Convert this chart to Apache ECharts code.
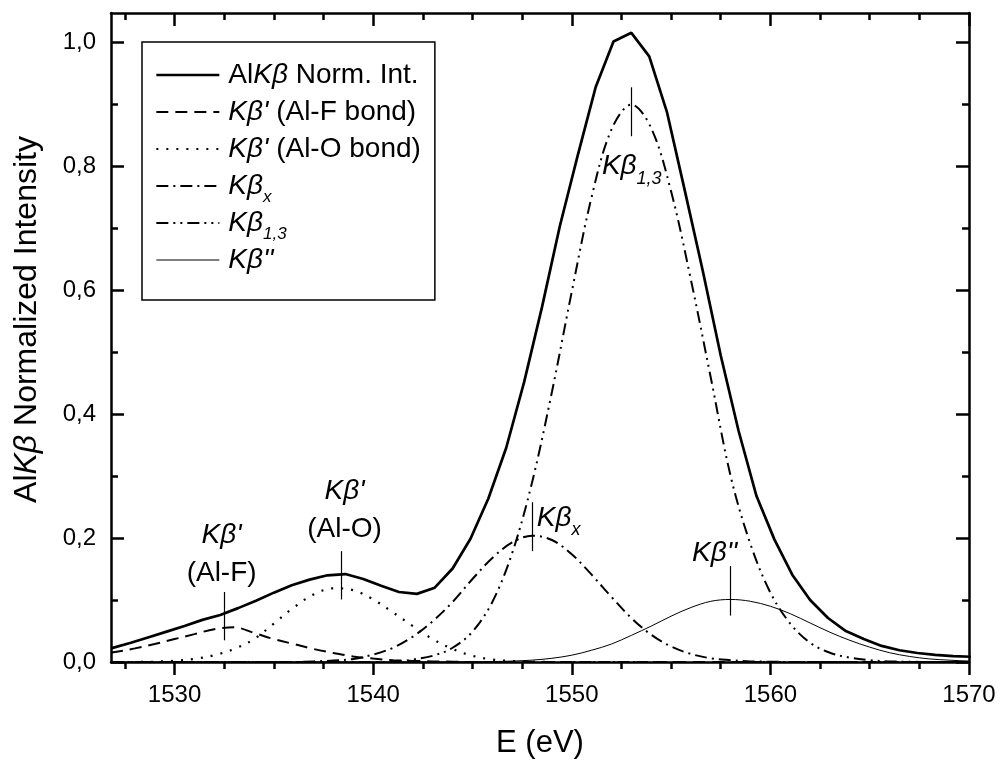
<!DOCTYPE html>
<html>
<head>
<meta charset="utf-8">
<title>Al Kβ spectrum</title>
<script src="https://cdn.jsdelivr.net/npm/echarts@6/dist/echarts.min.js"></script>
<style>
  html, body { margin: 0; padding: 0; background: #fff; }
  #chart { width: 1000px; height: 760px; }
</style>
</head>
<body>
<div id="chart"></div>
<script>
// axis ticks
const xMajor = [1530, 1540, 1550, 1560, 1570];
const xMinor = [1527.5, 1532.5, 1535, 1537.5, 1542.5, 1545, 1547.5, 1552.5, 1555, 1557.5, 1562.5, 1565, 1567.5];
const yMajor = [0, 0.2, 0.4, 0.6, 0.8, 1.0];
const yMinor = [0.1, 0.3, 0.5, 0.7, 0.9];

// measured spectrum (eV, normalized intensity)
const totalE = [1526.8, 1527.8, 1528.7, 1529.6, 1530.5, 1531.4, 1532.3, 1533.2, 1534.1, 1535.0,
  1535.9, 1536.8, 1537.7, 1538.6, 1539.5, 1540.4, 1541.3, 1542.2, 1543.1, 1544.0,
  1544.9, 1545.8, 1546.7, 1547.6, 1548.5, 1549.4, 1550.3, 1551.2, 1552.1, 1553.0,
  1553.9, 1554.8, 1555.7, 1556.6, 1557.5, 1558.4, 1559.3, 1560.2, 1561.1, 1562.0,
  1562.9, 1563.8, 1564.7, 1565.6, 1566.5, 1567.4, 1568.3, 1569.2, 1570.1, 1570.8];
const totalI = [0.022, 0.031, 0.040, 0.049, 0.058, 0.068, 0.076, 0.087, 0.099, 0.112,
  0.124, 0.133, 0.140, 0.142, 0.134, 0.123, 0.113, 0.110, 0.120, 0.151,
  0.199, 0.264, 0.346, 0.452, 0.573, 0.704, 0.818, 0.928, 1.002, 1.016,
  0.978, 0.887, 0.760, 0.631, 0.495, 0.373, 0.268, 0.198, 0.141, 0.100,
  0.071, 0.050, 0.037, 0.026, 0.019, 0.0145, 0.0115, 0.0095, 0.0085, 0.008];

// fitted components on a common energy grid
const compE = [1526.8, 1527, 1528, 1529, 1530, 1531, 1532, 1533, 1534, 1535,
  1536, 1537, 1538, 1539, 1540, 1541, 1542, 1543, 1544, 1545,
  1546, 1547, 1548, 1549, 1550, 1551, 1552, 1553, 1554, 1555,
  1556, 1557, 1558, 1559, 1560, 1561, 1562, 1563, 1564, 1565,
  1566, 1567, 1568, 1569, 1570, 1570.8];
const alF = [0.015, 0.016, 0.022, 0.029, 0.037, 0.045, 0.053, 0.056, 0.047, 0.037,
  0.029, 0.021, 0.0145, 0.009, 0.0055, 0.003, 0.0018, 0.001, 0.0005, 0,
  0, 0, 0, 0, 0, 0, 0, 0, 0, 0,
  0, 0, 0, 0, 0, 0, 0, 0, 0, 0,
  0, 0, 0, 0, 0, 0];
const alO = [0, 0, 0, 0.0005, 0.002, 0.005, 0.011, 0.021, 0.037, 0.062,
  0.088, 0.109, 0.119, 0.116, 0.101, 0.080, 0.058, 0.037, 0.021, 0.010,
  0.004, 0.0015, 0.0005, 0, 0, 0, 0, 0, 0, 0,
  0, 0, 0, 0, 0, 0, 0, 0, 0, 0,
  0, 0, 0, 0, 0, 0];
const kbX = [0, 0, 0, 0, 0, 0, 0, 0, 0, 0,
  0, 0.001, 0.0023, 0.005, 0.012, 0.023, 0.041, 0.066, 0.097, 0.134,
  0.168, 0.193, 0.204, 0.197, 0.174, 0.141, 0.105, 0.071, 0.044, 0.025,
  0.013, 0.006, 0.003, 0.001, 0.0005, 0, 0, 0, 0, 0,
  0, 0, 0, 0, 0, 0];
const kb13 = [0, 0, 0, 0, 0, 0, 0, 0, 0, 0,
  0, 0, 0, 0, 0, 0, 0.004, 0.010, 0.023, 0.049,
  0.097, 0.176, 0.290, 0.436, 0.598, 0.751, 0.860, 0.900, 0.862, 0.760,
  0.617, 0.459, 0.300, 0.190, 0.112, 0.062, 0.031, 0.015, 0.007, 0.003,
  0.001, 0.0004, 0, 0, 0, 0];
const kb2 = [0, 0, 0, 0, 0, 0, 0, 0, 0, 0,
  0, 0, 0, 0, 0, 0, 0, 0, 0.0002, 0.0004,
  0.0007, 0.0015, 0.003, 0.006, 0.011, 0.019, 0.029, 0.043, 0.058, 0.074,
  0.088, 0.098, 0.101, 0.098, 0.090, 0.078, 0.063, 0.048, 0.035, 0.024,
  0.015, 0.009, 0.005, 0.003, 0.0015, 0.001];

// peak markers (energy, bottom and top of the marker)
const peakE = [1532.5, 1538.4, 1548.0, 1553.0, 1558.0];
const peakLow = [0.035, 0.101, 0.179, 0.849, 0.075];
const peakHigh = [0.113, 0.179, 0.258, 0.928, 0.155];

// every legend row carries a subscript slot (empty ones are zero width) so all rows get the same height
const seriesKeys = ['total', 'alF', 'alO', 'kbX', 'kb13', 'kb2'];
const legendLabels = [
  '{n|Al}{i|Kβ}{n| Norm. Int.}{s|\u200b}',
  "{i|Kβ'}{n| (Al-F bond)}{s|\u200b}",
  "{i|Kβ'}{n| (Al-O bond)}{s|\u200b}",
  '{i|Kβ}{s|x}',
  '{i|Kβ}{s|1,3}',
  "{i|Kβ''}{s|\u200b}"
];
const lineWidths = [2.7, 2, 2.2, 2, 2, 1];

const FONT = '"Liberation Sans", Arial, Helvetica, sans-serif';
const X_MIN = 1526.8, X_MAX = 1570;
const Y_MIN = 0, Y_MAX = 1.048;

function pairs(xs, ys) {
  return xs.map(function (x, i) { return [x, ys[i]]; });
}

// peak labels, placed in data units
const peakLabels = [
  { coord: [1532.37, 0.174], text: "{a|Kβ'}\n{b|(Al-F)}", pos: 'inside' },
  { coord: [1538.56, 0.245], text: "{a|Kβ'}\n{b|(Al-O)}", pos: 'inside' },
  { coord: [1548.24, 0.232], text: '{c|Kβ}{d|x}', pos: 'right' },
  { coord: [1553.02, 0.800], text: '{c|Kβ}{d|1,3}', pos: 'inside' },
  { coord: [1557.2, 0.176], text: "{c|Kβ''}", pos: 'inside' }
];

const annRich = {
  a: { fontFamily: FONT, fontSize: 28, fontStyle: 'italic', lineHeight: 38, color: '#000' },
  b: { fontFamily: FONT, fontSize: 28, lineHeight: 38, color: '#000' },
  c: { fontFamily: FONT, fontSize: 28, fontStyle: 'italic', lineHeight: 28, color: '#000' },
  d: { fontFamily: FONT, fontSize: 18, fontStyle: 'italic', lineHeight: 2, verticalAlign: 'top', padding: [17, 0, 0, 0], color: '#000' }
};

const legendRich = {
  n: { fontFamily: FONT, fontSize: 28, lineHeight: 27, color: '#000' },
  i: { fontFamily: FONT, fontSize: 28, fontStyle: 'italic', lineHeight: 27, color: '#000' },
  s: { fontFamily: FONT, fontSize: 17, fontStyle: 'italic', lineHeight: 2, height: 2, verticalAlign: 'top', padding: [24, 0, 0, 0], color: '#000' }
};

const black = '#000';
const frame = { show: true, onZero: false, lineStyle: { color: black, width: 2.5 } };

function xDeco(position, ticks, len, inside, showLine) {
  return {
    type: 'value', position: position, min: X_MIN, max: X_MAX,
    axisLine: showLine ? frame : { show: false, onZero: false },
    axisTick: { show: true, customValues: ticks, length: len, inside: inside, lineStyle: { color: black, width: 2.5 } },
    axisLabel: { show: false },
    splitLine: { show: false }
  };
}
function yDeco(position, ticks, len, showLine) {
  return {
    type: 'value', position: position, min: Y_MIN, max: Y_MAX,
    axisLine: showLine ? frame : { show: false, onZero: false },
    axisTick: { show: true, customValues: ticks, length: len, inside: true, lineStyle: { color: black, width: 2.5 } },
    axisLabel: { show: false },
    splitLine: { show: false }
  };
}

const chart = echarts.init(document.getElementById('chart'));

const option = {
  animation: false,
  backgroundColor: '#fff',
  grid: { left: 111, right: 31, top: 13, bottom: 98, outerBoundsMode: 'none' },
  legend: {
    orient: 'vertical',
    left: 142,
    top: 42,
    padding: [19, 14, 20, 13],
    itemWidth: 63,
    itemHeight: 14,
    itemGap: 3,
    borderColor: black,
    borderWidth: 1.5,
    selectedMode: false,
    itemStyle: { opacity: 0 },
    data: seriesKeys.map(function (k, i) {
      return { name: k, lineStyle: { width: lineWidths[i] } };
    }),
    formatter: function (name) { return legendLabels[seriesKeys.indexOf(name)]; },
    textStyle: { color: black, fontFamily: FONT, fontSize: 28, padding: [0, 0, 0, 4], rich: legendRich }
  },
  xAxis: [
    {
      type: 'value', position: 'bottom', min: X_MIN, max: X_MAX,
      name: 'E (eV)', nameLocation: 'middle', nameGap: 66,
      nameTextStyle: { color: black, fontFamily: FONT, fontSize: 31 },
      axisLine: frame,
      axisTick: { show: true, customValues: xMajor, length: 13, inside: false, lineStyle: { color: black, width: 2.5 } },
      axisLabel: {
        show: true, customValues: xMajor, color: black, fontFamily: FONT, fontSize: 24, margin: 21,
        formatter: function (v) { return String(v); }
      },
      splitLine: { show: false }
    },
    xDeco('top', xMajor, 13, true, true),
    xDeco('bottom', xMinor, 7, false, false),
    xDeco('top', xMinor, 7, true, false)
  ],
  yAxis: [
    {
      type: 'value', position: 'left', min: Y_MIN, max: Y_MAX,
      name: '{n|Al}{i|Kβ}{n| Normalized Intensity}',
      nameLocation: 'middle', nameGap: 68, nameRotate: 90,
      nameTextStyle: {
        color: black, fontFamily: FONT, fontSize: 32, padding: [0, 0, 0, 36],
        rich: {
          n: { fontFamily: FONT, fontSize: 32, color: black },
          i: { fontFamily: FONT, fontSize: 32, fontStyle: 'italic', color: black }
        }
      },
      axisLine: frame,
      axisTick: { show: true, customValues: yMajor, length: 13, inside: true, lineStyle: { color: black, width: 2.5 } },
      axisLabel: {
        show: true, customValues: yMajor, color: black, fontFamily: FONT, fontSize: 24, margin: 15,
        formatter: function (v) { return v.toFixed(1).replace('.', ','); }
      },
      splitLine: { show: false }
    },
    yDeco('right', yMajor, 13, true),
    yDeco('left', yMinor, 7, false),
    yDeco('right', yMinor, 7, false)
  ],
  series: [
    {
      name: 'alF', type: 'line', data: pairs(compE, alF), symbol: 'none', smooth: 0.35, clip: false,
      lineStyle: { color: black, width: 2, type: [12, 7] }
    },
    {
      name: 'alO', type: 'line', data: pairs(compE, alO), symbol: 'none', smooth: 0.35, clip: false,
      lineStyle: { color: black, width: 2.2, type: [2, 8] }
    },
    {
      name: 'kbX', type: 'line', data: pairs(compE, kbX), symbol: 'none', smooth: 0.35, clip: false,
      lineStyle: { color: black, width: 2, type: [12, 5, 2, 5] }
    },
    {
      name: 'kb13', type: 'line', data: pairs(compE, kb13), symbol: 'none', smooth: 0.35, clip: false,
      lineStyle: { color: black, width: 2, type: [12, 5, 2, 5, 2, 5] }
    },
    {
      name: 'kb2', type: 'line', data: pairs(compE, kb2), symbol: 'none', smooth: 0.35, clip: false,
      lineStyle: { color: black, width: 1 }
    },
    {
      name: 'total', type: 'line', data: pairs(totalE, totalI), symbol: 'none', clip: false,
      lineStyle: { color: black, width: 2.7 },
      z: 5,
      markLine: {
        silent: true,
        symbol: ['none', 'none'],
        label: { show: false },
        lineStyle: { color: black, width: 1.2, type: 'solid' },
        data: peakE.map(function (e, i) {
          return [{ coord: [e, peakLow[i]] }, { coord: [e, peakHigh[i]] }];
        })
      },
      markPoint: {
        silent: true,
        symbol: 'circle',
        symbolSize: 0,
        label: { show: true, color: black, rich: annRich },
        data: peakLabels.map(function (p) {
          return {
            coord: p.coord,
            label: { show: true, position: p.pos, distance: 0, formatter: p.text, rich: annRich }
          };
        })
      }
    }
  ]
};

chart.setOption(option);
window.addEventListener('resize', function () { chart.resize(); });
</script>
</body>
</html>
